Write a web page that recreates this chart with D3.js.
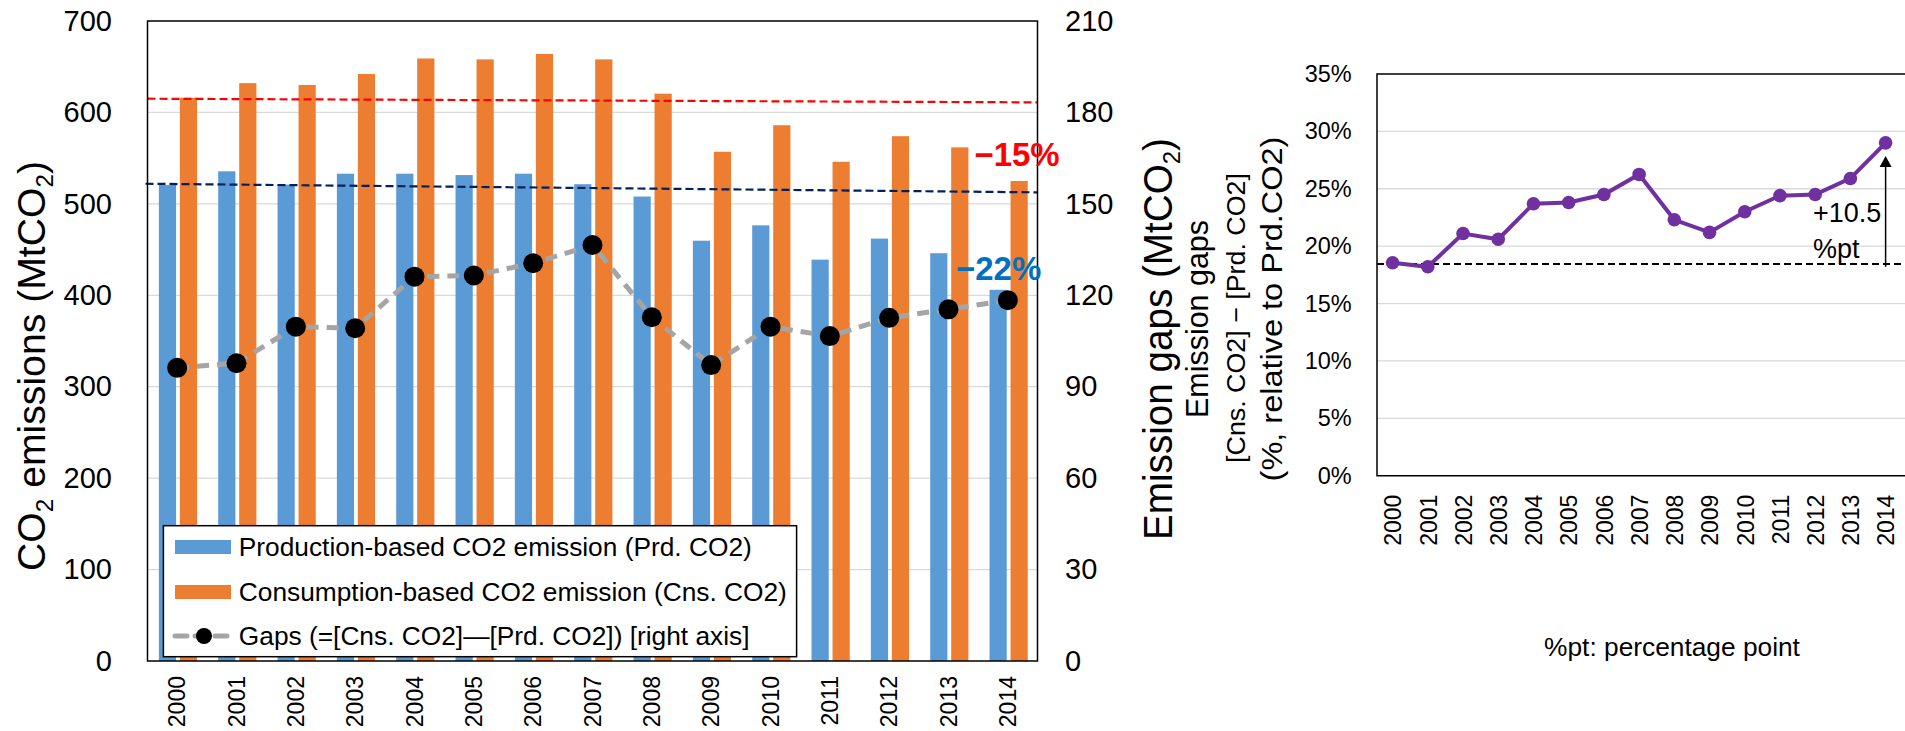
<!DOCTYPE html>
<html><head><meta charset="utf-8">
<script src="https://cdn.jsdelivr.net/npm/d3@7"></script>
<style>body{margin:0;background:#fff;} svg{display:block;font-family:"Liberation Sans",Arial,sans-serif;}</style>
</head><body><svg id="c" width="1905" height="731"></svg>
<script>
const years = ["2000","2001","2002","2003","2004","2005","2006","2007","2008","2009","2010","2011","2012","2013","2014"];
const prdCO2 = [520.6,535.6,521,533,533,531.5,533,521.5,508,459.7,476.5,439,462,446,406];
const cnsCO2 = [616,632,630,642,659,658,664,658,620.5,557,586,546,574,561.8,525];
const gapsMt = [96.2,97.7,109.7,109.2,126.1,126.5,130.5,136.5,112.8,97.1,109.7,106.6,112.6,115.4,118.4];
const gapsPct = [18.55,18.2,21.1,20.6,23.7,23.8,24.5,26.25,22.3,21.2,23.0,24.4,24.5,25.9,29.0];
const leftTicks = [0,100,200,300,400,500,600,700];
const rightTicks = [0,30,60,90,120,150,180,210];
const pctTicks = [0,5,10,15,20,25,30,35];
const legendLabels = ["Production-based CO2 emission (Prd. CO2)","Consumption-based CO2 emission (Cns. CO2)","Gaps (=[Cns. CO2]\u2014[Prd. CO2]) [right axis]"];
const cnsTrend = [615, 611];
const prdTrend = [522, 512.6];
const changeLabels = ["\u221215%","\u221222%"];
const pctBaseline = 18.45;
const arrowRange = [18.2, 27.85];

const svg = d3.select("#c");
const C = {blue:"#5b9bd5", orange:"#ed7d31", gray:"#a5a5a5", purple:"#7030a0", grid:"#d9d9d9"};

// ---------- Left chart ----------
const L = {x0:147.5, x1:1037.5, y0:21, y1:661};
const x = d3.scaleBand().domain(years).range([L.x0, L.x1]);
const xs = d3.scaleBand().domain(["prd","cns"]).range([x.bandwidth()/2-19.1+0.8, x.bandwidth()/2+19.1+0.8]).paddingInner(0.181);
const yL = d3.scaleLinear().domain([0,700]).range([L.y1, L.y0]);
const yR = d3.scaleLinear().domain([0,210]).range([L.y1, L.y0]);

svg.append("g").selectAll("line").data(leftTicks.slice(1,-1)).join("line")
  .attr("x1",L.x0).attr("x2",L.x1).attr("y1",d=>yL(d)).attr("y2",d=>yL(d))
  .attr("stroke",C.grid).attr("stroke-width",1.3);

const bars = svg.append("g");
bars.selectAll(".p").data(years).join("rect")
  .attr("x",(d)=>x(d)+xs("prd")).attr("width",xs.bandwidth())
  .attr("y",(d,i)=>yL(prdCO2[i])).attr("height",(d,i)=>yL(0)-yL(prdCO2[i])).attr("fill",C.blue);
bars.selectAll(".c").data(years).join("rect")
  .attr("x",(d)=>x(d)+xs("cns")).attr("width",xs.bandwidth())
  .attr("y",(d,i)=>yL(cnsCO2[i])).attr("height",(d,i)=>yL(0)-yL(cnsCO2[i])).attr("fill",C.orange);

// trend dashed lines
svg.append("line").attr("x1",L.x0).attr("x2",L.x1).attr("y1",yL(cnsTrend[0])).attr("y2",yL(cnsTrend[1]))
  .attr("stroke","#ff0000").attr("stroke-width",2.2).attr("stroke-dasharray","8,4");
svg.append("line").attr("x1",L.x0-2).attr("x2",L.x1).attr("y1",yL(prdTrend[0])).attr("y2",yL(prdTrend[1]))
  .attr("stroke","#002060").attr("stroke-width",2.2).attr("stroke-dasharray","8,4");

// gaps line
const cx = d => x(d)+x.bandwidth()/2;
svg.append("path").datum(years)
  .attr("d", d3.line().x(d=>cx(d)).y((d,i)=>yR(gapsMt[i])))
  .attr("fill","none").attr("stroke",C.gray).attr("stroke-width",5).attr("stroke-dasharray","12,8");
svg.append("g").selectAll("circle").data(years).join("circle")
  .attr("cx",d=>cx(d)).attr("cy",(d,i)=>yR(gapsMt[i])).attr("r",10).attr("fill","#000");

// frame
svg.append("rect").attr("x",L.x0).attr("y",L.y0).attr("width",L.x1-L.x0).attr("height",L.y1-L.y0)
  .attr("fill","none").attr("stroke","#000").attr("stroke-width",1.5);

// axes
const axL = svg.append("g").attr("transform",`translate(${L.x0},0)`)
  .call(d3.axisLeft(yL).tickValues(leftTicks).tickSize(0).tickPadding(35.5));
axL.select(".domain").remove();
axL.selectAll("text").attr("font-size",29).attr("font-family","Liberation Sans, Arial").attr("fill","#000");
const axR = svg.append("g").attr("transform",`translate(${L.x1},0)`)
  .call(d3.axisRight(yR).tickValues(rightTicks).tickSize(0).tickPadding(27.5));
axR.select(".domain").remove();
axR.selectAll("text").attr("font-size",29).attr("font-family","Liberation Sans, Arial").attr("fill","#000");
const axB = svg.append("g").attr("transform",`translate(0,${L.y1})`)
  .call(d3.axisBottom(x).tickSize(0));
axB.select(".domain").remove();
axB.selectAll("text").attr("font-size",23).attr("font-family","Liberation Sans, Arial").attr("fill","#000")
  .attr("transform","rotate(-90)").attr("x",-15).attr("y",0).attr("dy","0.36em").style("text-anchor","end");

// change labels
svg.append("text").attr("x",974.4).attr("y",166).attr("font-size",33).attr("font-weight","bold")
  .attr("fill","#ff0000").text(changeLabels[0]);
svg.append("text").attr("x",956).attr("y",280).attr("font-size",33).attr("font-weight","bold")
  .attr("fill","#0070c0").text(changeLabels[1]);

// legend
const lg = svg.append("g");
lg.append("rect").attr("x",163.4).attr("y",525.7).attr("width",633.2).attr("height",131)
  .attr("fill","#fff").attr("stroke","#000").attr("stroke-width",1.5);
const rowY = [547, 592, 636];
lg.append("rect").attr("x",175).attr("y",rowY[0]-7).attr("width",56).attr("height",14).attr("fill",C.blue);
lg.append("rect").attr("x",175).attr("y",rowY[1]-7).attr("width",56).attr("height",14).attr("fill",C.orange);
lg.append("line").attr("x1",175).attr("x2",231).attr("y1",rowY[2]).attr("y2",rowY[2])
  .attr("stroke",C.gray).attr("stroke-width",5).attr("stroke-dasharray","12,8").attr("stroke-linecap","round");
lg.append("circle").attr("cx",204).attr("cy",rowY[2]).attr("r",8).attr("fill","#000");
lg.selectAll("text").data(legendLabels).join("text")
  .attr("x",238.8).attr("y",(d,i)=>rowY[i]).attr("dy","0.36em").attr("font-size",26.3).text(d=>d);

// rotated titles helper
function rotTitle(bx, cy, fs, targetLen, build){
  const g = svg.append("g").attr("transform",`translate(${bx},${cy}) rotate(-90)`);
  const t = g.append("text").attr("text-anchor","middle").attr("font-size",fs).attr("fill","#000");
  build(t);
  const len = t.node().getComputedTextLength();
  t.attr("transform",`scale(${targetLen/len},1)`);
  return t;
}
function co2(t, fs, pre, mid, post){
  t.append("tspan").text(pre);
  t.append("tspan").attr("font-size",fs*0.62).attr("dy",fs*0.2).text("2");
  t.append("tspan").attr("dy",-fs*0.2).text(mid);
  if(post!==undefined){
    t.append("tspan").attr("font-size",fs*0.62).attr("dy",fs*0.2).text("2");
    t.append("tspan").attr("dy",-fs*0.2).text(post);
  }
}
rotTitle(45, 366, 39, 410, t=>co2(t,39,"CO"," emissions  (MtCO",")"));
rotTitle(1171.5, 339, 40, 402, t=>co2(t,40,"Emission gaps  (MtCO",")"));
rotTitle(1208, 319, 31, 198, t=>t.text("Emission gaps"));
rotTitle(1245, 318, 26, 290, t=>t.text("[Cns.  CO2] \u2212 [Prd.  CO2]"));
rotTitle(1282, 309, 30, 345, t=>t.text("(%, relative to Prd.CO2)"));

// ---------- Right chart ----------
const R = {x0:1377, x1:1905, y0:74, y1:475.7};
const xp = d3.scalePoint().domain(years).range([1392.6, 1885.6]);
const yP = d3.scaleLinear().domain([0,35]).range([R.y1, R.y0]);

svg.append("g").selectAll("line").data(pctTicks.slice(1,-1)).join("line")
  .attr("x1",R.x0).attr("x2",R.x1).attr("y1",d=>yP(d)).attr("y2",d=>yP(d))
  .attr("stroke",C.grid).attr("stroke-width",1.3);
svg.append("path").attr("d",`M${R.x1},${R.y0}H${R.x0}V${R.y1}H${R.x1}`)
  .attr("fill","none").attr("stroke","#000").attr("stroke-width",1.5);

svg.append("line").attr("x1",R.x0).attr("x2",R.x1).attr("y1",yP(pctBaseline)).attr("y2",yP(pctBaseline))
  .attr("stroke","#000").attr("stroke-width",2).attr("stroke-dasharray","7,4");

svg.append("path").datum(years)
  .attr("d", d3.line().x(d=>xp(d)).y((d,i)=>yP(gapsPct[i])))
  .attr("fill","none").attr("stroke",C.purple).attr("stroke-width",4);
svg.append("g").selectAll("circle").data(years).join("circle")
  .attr("cx",d=>xp(d)).attr("cy",(d,i)=>yP(gapsPct[i])).attr("r",6.8).attr("fill",C.purple);

// arrow
const ax = xp("2014");
svg.append("line").attr("x1",ax).attr("x2",ax).attr("y1",yP(arrowRange[0])).attr("y2",yP(arrowRange[1])+10)
  .attr("stroke","#000").attr("stroke-width",1.5);
const tipY = yP(arrowRange[1]);
svg.append("path").attr("d",`M${ax},${tipY}L${ax-6},${tipY+11}L${ax+6},${tipY+11}Z`).attr("fill","#000");
svg.append("text").attr("x",1813).attr("y",221.7).attr("font-size",27).text("+10.5");
svg.append("text").attr("x",1813).attr("y",258).attr("font-size",27).text("%pt");

const axP = svg.append("g").attr("transform",`translate(${R.x0},0)`)
  .call(d3.axisLeft(yP).tickValues(pctTicks).tickFormat(d=>d+"%").tickSize(0).tickPadding(25.3));
axP.select(".domain").remove();
axP.selectAll("text").attr("font-size",23.5).attr("font-family","Liberation Sans, Arial").attr("fill","#000");
const axPB = svg.append("g").attr("transform",`translate(0,${R.y1})`)
  .call(d3.axisBottom(xp).tickSize(0));
axPB.select(".domain").remove();
axPB.selectAll("text").attr("font-size",23).attr("font-family","Liberation Sans, Arial").attr("fill","#000")
  .attr("transform","rotate(-90)").attr("x",-19).attr("y",0).attr("dy","0.36em").style("text-anchor","end");

svg.append("text").attr("x",1672).attr("y",655.5).attr("text-anchor","middle").attr("font-size",26.3)
  .text("%pt: percentage point");
</script></body></html>
